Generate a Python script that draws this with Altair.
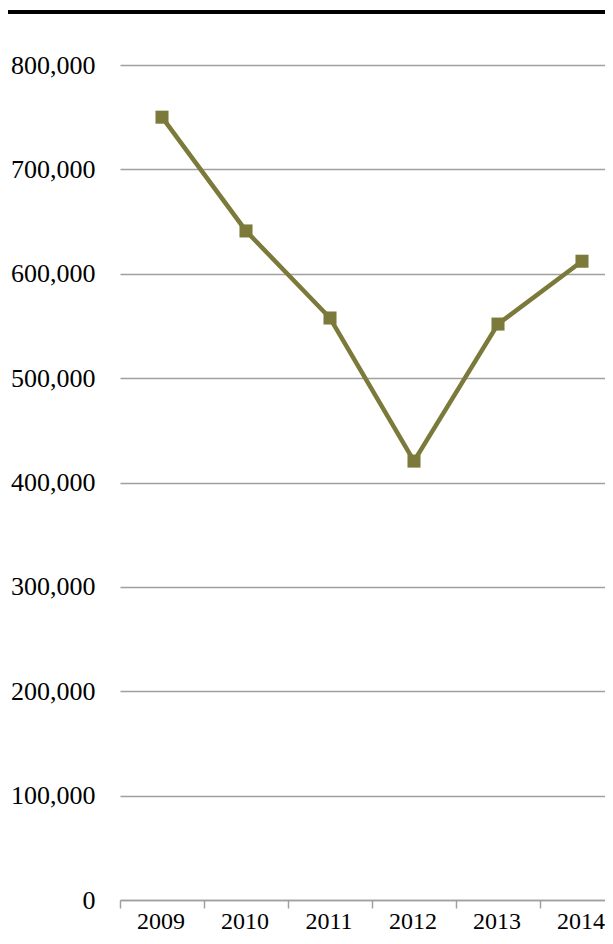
import altair as alt
import pandas as pd

years = ["2009", "2010", "2011", "2012", "2013", "2014"]
values = [750000, 641000, 557600, 420500, 551800, 612000]
y_ticks = [0, 100000, 200000, 300000, 400000, 500000, 600000, 700000, 800000]

df = pd.DataFrame({"year": years, "value": values})

LINE = "#7b7a3b"
GRID = "#a0a0a0"

base = alt.Chart(df)

line = base.mark_line(
    color=LINE,
    strokeWidth=4.5,
    point=alt.OverlayMarkDef(shape="square", size=170, filled=True, color=LINE, opacity=1),
).encode(
    x=alt.X(
        "year:O",
        bandPosition=0.5,
        scale=alt.Scale(type="band", range=[0, 504], paddingInner=0, paddingOuter=0),
        axis=alt.Axis(
            title=None,
            labelAngle=0,
            tickBand="extent",
            domainColor=GRID,
            domainWidth=1.5,
            tickColor=GRID,
            tickWidth=1.5,
            tickSize=8,
            labelPadding=1,
            labelFontSize=24,
            labelOffset=-1.5,
            grid=False,
        ),
    ),
    y=alt.Y(
        "value:Q",
        scale=alt.Scale(domain=[0, 800000], nice=False, zero=True),
        axis=alt.Axis(
            title=None,
            values=y_ticks,
            format=",.0f",
            grid=True,
            gridColor=GRID,
            gridWidth=1.5,
            domain=False,
            ticks=False,
            labelPadding=25,
        ),
    ),
)

top_rule = alt.Chart(df).mark_rule(color="black", strokeWidth=3, clip=False).encode(
    x=alt.value(-112), x2=alt.value(493), y=alt.value(-53)
)

chart = alt.layer(line, top_rule).properties(
    width=485,
    height=835,
    autosize=alt.AutoSizeParams(type="none"),
    padding={"left": 112, "top": 57, "right": 0, "bottom": 36},
).configure_view(stroke=None).configure_axis(
    labelFont="Liberation Serif",
    labelFontSize=26,
    labelColor="black",
)

chart.save("out.html", embed_options={"renderer": "svg", "actions": False})
